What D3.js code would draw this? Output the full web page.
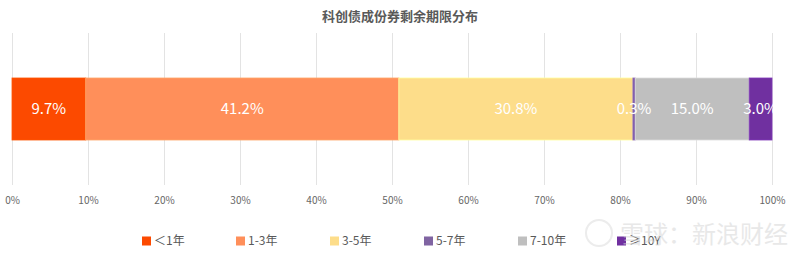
<!DOCTYPE html>
<html>
<head>
<meta charset="utf-8">
<script src="https://cdn.jsdelivr.net/npm/d3@7/dist/d3.min.js"></script>
<style>
  body { margin: 0; background: #fff; }
  svg { display: block; font-family: "Noto Sans CJK SC", "Noto Sans", sans-serif; }
</style>
</head>
<body>
<div id="chart"></div>
<script>
const categories = ['＜1年', '1-3年', '3-5年', '5-7年', '7-10年', '≥10Y'];
const values = [9.7, 41.2, 30.8, 0.3, 15.0, 3.0];
const colors = ['#FC4A00', '#FF8F5A', '#FDDD8A', '#7D5BA6', '#BFBFBF', '#7030A0'];
const legendColors = ['#FC4A00', '#FF8F5A', '#FDDD8A', '#8064A2', '#BFBFBF', '#7030A0'];
const ticks = [0, 10, 20, 30, 40, 50, 60, 70, 80, 90, 100];
const title = '科创债成份券剩余期限分布';

const width = 800, height = 259;
const margin = { left: 12, right: 28 };

const svg = d3.select('#chart').append('svg')
    .attr('width', width)
    .attr('height', height);

const x = d3.scaleLinear().domain([0, 100]).range([margin.left, width - margin.right]);

// title
svg.append('text')
    .attr('x', 400).attr('y', 21)
    .attr('text-anchor', 'middle')
    .attr('fill', '#595959')
    .style('font-size', '13px')
    .style('font-weight', '700')
    .text(title);

// grid lines
svg.append('g').selectAll('line')
    .data(ticks)
    .join('line')
    .attr('x1', d => x(d) + 0.5).attr('x2', d => x(d) + 0.5)
    .attr('y1', 33).attr('y2', 185)
    .attr('stroke', '#E3E3E3')
    .attr('stroke-width', 1);

// tick labels
const xAxis = d3.axisBottom(x).tickValues(ticks).tickFormat(d => d + '%').tickSize(0).tickPadding(0);
const axisG = svg.append('g').attr('transform', 'translate(0,197)').call(xAxis);
axisG.select('.domain').remove();
axisG.selectAll('text')
    .attr('fill', '#666')
    .style('font-size', '10px')
    .style('font-family', '"Noto Sans CJK SC", "Noto Sans", sans-serif');

// stacked segments
let acc = 0;
const segs = values.map((v, i) => {
    const s = { cat: categories[i], v, x0: acc, x1: acc + v, color: colors[i] };
    acc += v;
    return s;
});

const barY = 78, barH = 62;
svg.append('g').selectAll('rect')
    .data(segs)
    .join('rect')
    .attr('x', d => x(d.x0))
    .attr('y', barY)
    .attr('width', d => x(d.x1) - x(d.x0))
    .attr('height', barH)
    .attr('fill', d => d.color)
    .attr('stroke', d => d3.color(d.color).brighter(0.4))
    .attr('stroke-width', 0.8);

svg.append('g').selectAll('text')
    .data(segs)
    .join('text')
    .attr('x', d => (x(d.x0) + x(d.x1)) / 2)
    .attr('y', barY + barH / 2)
    .attr('dy', '0.35em')
    .attr('text-anchor', 'middle')
    .attr('fill', '#fff')
    .style('font-size', '15px')
    .text(d => d.v.toFixed(1) + '%');

// legend
const legendX = [142, 236, 330, 424, 518, 617];
const lg = svg.append('g').selectAll('g')
    .data(categories)
    .join('g')
    .attr('transform', (d, i) => `translate(${legendX[i]},241)`);
lg.append('rect')
    .attr('x', 0).attr('y', -4.5)
    .attr('width', 9).attr('height', 9)
    .attr('fill', (d, i) => legendColors[i]);
lg.append('text')
    .attr('x', 12).attr('y', 0)
    .attr('dy', '0.35em')
    .attr('fill', '#595959')
    .style('font-size', '12px')
    .text(d => d);

// watermark
const wm = svg.append('g').attr('opacity', 0.55);
wm.append('circle').attr('cx', 599).attr('cy', 233).attr('r', 13)
    .attr('fill', 'none').attr('stroke', '#ddd').attr('stroke-width', 2);
wm.append('text')
    .attr('x', 620).attr('y', 243)
    .attr('fill', '#d6d6d6')
    .style('font-size', '24px')
    .text('雪球：新浪财经');
</script>
</body>
</html>
